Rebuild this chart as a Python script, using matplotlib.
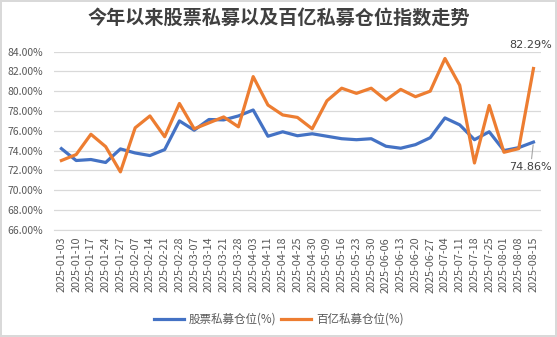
import matplotlib.pyplot as plt
from matplotlib.ticker import FuncFormatter

plt.rcParams['font.family'] = ['Noto Sans CJK SC', 'DejaVu Sans']

dates = ['2025-01-03', '2025-01-10', '2025-01-17', '2025-01-24', '2025-01-27',
         '2025-02-07', '2025-02-14', '2025-02-21', '2025-02-28', '2025-03-07',
         '2025-03-14', '2025-03-21', '2025-03-28', '2025-04-03', '2025-04-11',
         '2025-04-18', '2025-04-25', '2025-04-30', '2025-05-09', '2025-05-16',
         '2025-05-23', '2025-05-30', '2025-06-06', '2025-06-13', '2025-06-20',
         '2025-06-27', '2025-07-04', '2025-07-11', '2025-07-18', '2025-07-25',
         '2025-08-01', '2025-08-08', '2025-08-15']

# 股票私募仓位 (%)
stock_pos = [74.2, 73.0, 73.1, 72.8, 74.17, 73.76, 73.5, 74.1, 77.0, 76.06,
             77.14, 77.1, 77.5, 78.1, 75.45, 75.9, 75.5, 75.7, 75.45, 75.2,
             75.1, 75.2, 74.44, 74.24, 74.6, 75.3, 77.3, 76.6, 75.1, 75.9,
             74.0, 74.3, 74.86]

# 百亿私募仓位 (%)
big_pos = [73.0, 73.6, 75.65, 74.4, 71.85, 76.3, 77.5, 75.4, 78.76, 76.2,
           76.8, 77.4, 76.4, 81.47, 78.6, 77.6, 77.35, 76.2, 79.03, 80.3,
           79.78, 80.3, 79.1, 80.18, 79.44, 80.0, 83.3, 80.6, 72.75, 78.56,
           73.83, 74.2, 82.29]

blue = '#4472C4'
orange = '#ED7D31'
grey_text = '#595959'

fig = plt.figure(figsize=(5.57, 3.37), dpi=100)
fig.patch.set_facecolor('white')
fig.patch.set_edgecolor('#D9D9D9')
fig.patch.set_linewidth(1.5)
ax = fig.add_axes([0.097, 0.318, 0.874, 0.529])

x = range(len(dates))
ax.plot(x, stock_pos, color=blue, lw=2.3, label='股票私募仓位(%)', zorder=3)
ax.plot(x, big_pos, color=orange, lw=2.3, label='百亿私募仓位(%)', zorder=3)

ax.set_xlim(-0.5, len(dates) - 0.5)
ax.set_ylim(66, 84)
ax.set_yticks(range(66, 85, 2))
ax.yaxis.set_major_formatter(FuncFormatter(lambda v, p: f'{v:.2f}%'))
ax.set_xticks(list(x))
ax.set_xticklabels(dates, rotation=90)
ax.tick_params(axis='y', length=0, labelsize=7.5, colors=grey_text, pad=8)
ax.tick_params(axis='x', length=0, labelsize=7.8, colors=grey_text, pad=5)
ax.grid(axis='y', color='#D9D9D9', lw=0.9)
ax.set_axisbelow(True)
for s in ['top', 'right', 'left']:
    ax.spines[s].set_visible(False)
ax.spines['bottom'].set_color('#D9D9D9')

# value labels at the last point
last = len(dates) - 1
ax.annotate(f'{big_pos[-1]:.2f}%', (last, big_pos[-1]), xytext=(-2, 13),
            textcoords='offset points', ha='center', va='bottom',
            fontsize=8, color='#404040', family='DejaVu Sans')
ax.annotate(f'{stock_pos[-1]:.2f}%', (last, stock_pos[-1]), xytext=(-2, -14),
            textcoords='offset points', ha='center', va='top',
            fontsize=8, color='#404040', family='DejaVu Sans',
            arrowprops=dict(arrowstyle='-', color='#A6A6A6', lw=0.8,
                            shrinkA=0, shrinkB=2))

fig.text(0.5, 0.945, '今年以来股票私募以及百亿私募仓位指数走势', ha='center',
         va='center', fontsize=13.8, fontweight='bold', color='#404040')

fig.legend(loc='center', bbox_to_anchor=(0.5, 0.053), ncol=2, frameon=False,
           fontsize=8.3, handlelength=2.6, columnspacing=0.5, handletextpad=0.4,
           labelcolor=grey_text)

fig.savefig('out.png', dpi=100, facecolor=fig.get_facecolor(),
            edgecolor=fig.get_edgecolor())
